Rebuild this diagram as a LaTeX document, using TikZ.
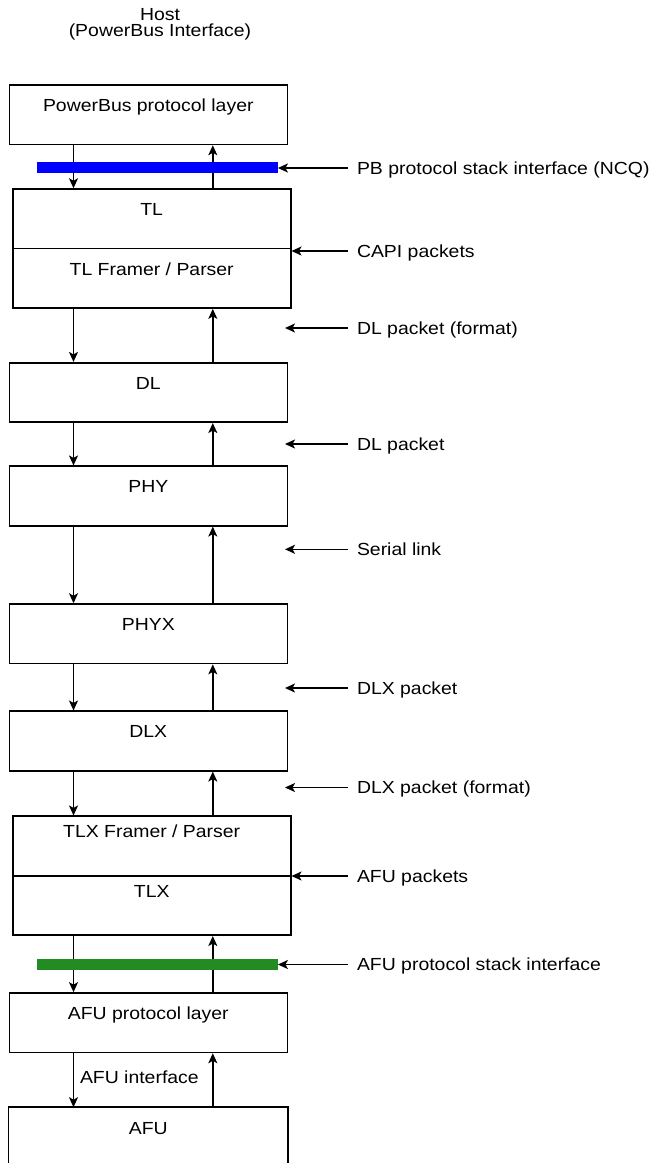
\documentclass[tikz,border=0pt]{standalone}
\usepackage{fontspec}
\setmainfont{Liberation Sans}[FakeStretch=1.11]
\usepackage{tikz}
\usetikzlibrary{arrows.meta}
\definecolor{pbblue}{RGB}{0,0,255}
\definecolor{afugreen}{RGB}{34,139,34}

\begin{document}
\begin{tikzpicture}[x=1pt,y=-1pt,
        font=\fontsize{17.5}{16.5}\selectfont,
        layer/.style={draw,line width=1.6pt,minimum width=278pt,minimum height=59.5pt,inner sep=0pt,
                text height=13pt,text depth=19.5pt},
        stackbar/.style={minimum width=241pt,minimum height=11.5pt,inner sep=0pt},
        note/.style={anchor=west,inner sep=0pt,outer xsep=9pt,text height=12.5pt,text depth=0pt},
        flow/.style={line width=1.5pt,-{Stealth[length=10pt,width=9pt,inset=2.5pt]}}]
        \fill[white] (0,0) rectangle (656,1163);
        \useasboundingbox (0,0) rectangle (656,1163);

        \node[align=center] (host) at (160,24.5) {Host\\(PowerBus Interface)};

        % layers
        \node[layer] (pb) at (148.3,114.7) {PowerBus protocol layer};
        \node[layer] (tl) at (151.7,218.8) {TL};
        \node[layer] (tlfp) at (151.7,278.3) {TL Framer / Parser};
        \node[layer] (dl) at (148.3,392.5) {DL};
        \node[layer] (phy) at (148.3,496) {PHY};
        \node[layer] (phyx) at (148.3,633.8) {PHYX};
        \node[layer] (dlx) at (148.3,741) {DLX};
        \node[layer,text depth=30pt] (tlxfp) at (151.7,846) {TLX Framer / Parser};
        \node[layer,text depth=30pt] (tlx) at (151.7,905.5) {TLX};
        \node[layer] (afupl) at (148.3,1022.7) {AFU protocol layer};
        \node[layer,draw=none,minimum height=55pt,text depth=15.5pt] (afu) at (148.3,1135.5) {AFU};
        \draw[line width=1.6pt] (afu.south west) |- (afu.north east) -- (afu.south east);

        % down and up
        \coordinate (dn) at (73.5,0);
        \coordinate (up) at (212.8,0);
        \foreach \a/\b in {pb/tl,tlfp/dl,dl/phy,phy/phyx,phyx/dlx,dlx/tlxfp,tlx/afupl,afupl/afu}
                {
                \draw[flow] (dn |- \a.south) -- (dn |- \b.north);
                \draw[flow] (up |- \b.north) -- (up |- \a.south);
                }
        \node[note,outer xsep=0pt] (afuiflbl) at (80,1077) {AFU interface};

        % stack interfaces
        \node[stackbar,fill=pbblue] (pbbar) at (157.2,167.5) {};
        \node[stackbar,fill=afugreen] (afubar) at (157.2,964.7) {};

        % right side
        \node[note] (ncq) at (348,168) {PB protocol stack interface (NCQ)};
        \node[note] (capi) at (348,251) {CAPI packets};
        \node[note] (dlfmt) at (348,328) {DL packet (format)};
        \node[note] (dlpkt) at (348,444) {DL packet};
        \node[note] (serial) at (348,549.3) {Serial link};
        \node[note] (dlxpkt) at (348,688) {DLX packet};
        \node[note] (dlxfmt) at (348,787.5) {DLX packet (format)};
        \node[note] (afupkt) at (348,876) {AFU packets};
        \node[note] (afuif) at (348,964.5) {AFU protocol stack interface};

        \coordinate (rim) at (285,0);
        \draw[flow] (ncq.west) -- (ncq.west -| pbbar.east);
        \draw[flow] (capi.west) -- (capi.west -| tlfp.east);
        \foreach \n in {dlfmt,dlpkt,serial,dlxpkt,dlxfmt}
                \draw[flow] (\n.west) -- (\n.west -| rim);
        \draw[flow] (afupkt.west) -- (afupkt.west -| tlx.east);
        \draw[flow] (afuif.west) -- (afuif.west -| afubar.east);
\end{tikzpicture}
\end{document}
